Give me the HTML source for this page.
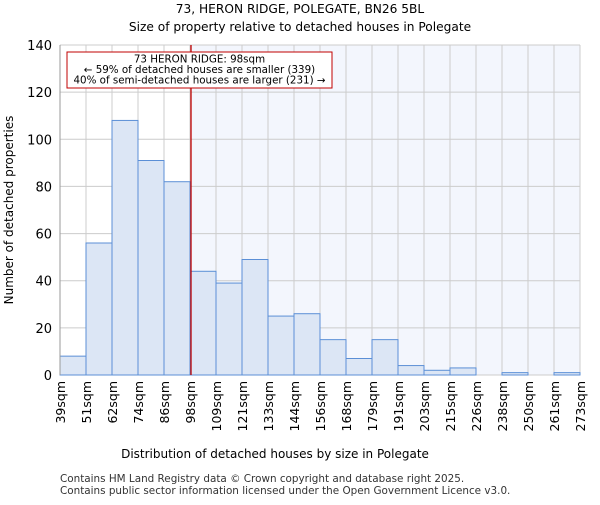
<!DOCTYPE html>
<html><head><meta charset="utf-8"><style>body{margin:0;background:#fff}svg text{font-family:"DejaVu Sans","Liberation Sans",sans-serif}</style></head>
<body>
<svg id="c" width="600" height="500" xmlns="http://www.w3.org/2000/svg">
<text x="300" y="13" text-anchor="middle" font-size="12.2">73, HERON RIDGE, POLEGATE, BN26 5BL</text>
<text x="300" y="31" text-anchor="middle" font-size="12.2">Size of property relative to detached houses in Polegate</text>
<g id="plot"></g>
<text x="275" y="458" text-anchor="middle" font-size="12">Distribution of detached houses by size in Polegate</text>
<text transform="translate(13,210) rotate(-90)" text-anchor="middle" font-size="12">Number of detached properties</text>
<text x="60" y="482" font-size="10.4" fill="#333">Contains HM Land Registry data © Crown copyright and database right 2025.</text>
<text x="60" y="494" font-size="10.4" fill="#333">Contains public sector information licensed under the Open Government Licence v3.0.</text>
</svg>
<script>
const categories=["39sqm","51sqm","62sqm","74sqm","86sqm","98sqm","109sqm","121sqm","133sqm","144sqm","156sqm","168sqm","179sqm","191sqm","203sqm","215sqm","226sqm","238sqm","250sqm","261sqm","273sqm"];
const values=[8,56,108,91,82,44,39,49,25,26,15,7,15,4,2,3,0,1,0,1];
const yTicks=[0,20,40,60,80,100,120,140];
const markerBin=5;
const L=60,R=580,T=45,B=375,yMax=140;
const n=values.length,bw=(R-L)/n;
const xs=i=>L+i*bw, ys=v=>B-(v/yMax)*(B-T);
const NS="http://www.w3.org/2000/svg",g=document.getElementById('plot');
function mk(t,a,p){const e=document.createElementNS(NS,t);for(const k in a)e.setAttribute(k,a[k]);(p||g).appendChild(e);return e;}
let e=mk('rect',{x:xs(markerBin),y:T,width:R-xs(markerBin),height:B-T,fill:"#f3f6fd"});


for(let i=0;i<=n;i++){e=mk('line',{x1:xs(i),x2:xs(i),y1:T,y2:B,stroke:"#ccc","stroke-width":1});

}
yTicks.forEach(t=>{e=mk('line',{x1:L,x2:R,y1:ys(t),y2:ys(t),stroke:"#ccc","stroke-width":1});


e=mk('text',{x:L-8,y:ys(t)+5,"text-anchor":"end","font-size":13});e.textContent=t;

});
values.forEach((v,i)=>{e=mk('rect',{x:xs(i),y:ys(v),width:bw,height:B-ys(v),fill:"#dce6f5",stroke:"#5b8fd6","stroke-width":1});

});
categories.forEach((c,i)=>{e=mk('text',{transform:`translate(${xs(i)+5},381) rotate(-90)`,"text-anchor":"end","font-size":12.5});e.textContent=c;

});
e=mk('line',{x1:L,x2:L,y1:T,y2:B,stroke:"#999"});


e=mk('line',{x1:xs(markerBin)+1,x2:xs(markerBin)+1,y1:T,y2:B,stroke:"#c00000","stroke-width":1.3});


e=mk('rect',{x:67,y:52,width:265,height:36,fill:"#fff",stroke:"#c00000"});


["73 HERON RIDGE: 98sqm","← 59% of detached houses are smaller (339)","40% of semi-detached houses are larger (231) →"].forEach((s,i)=>{e=mk('text',{x:199.5,y:62.5+i*10.5,"text-anchor":"middle","font-size":10.3});e.textContent=s;

});
</script>
</body></html>
